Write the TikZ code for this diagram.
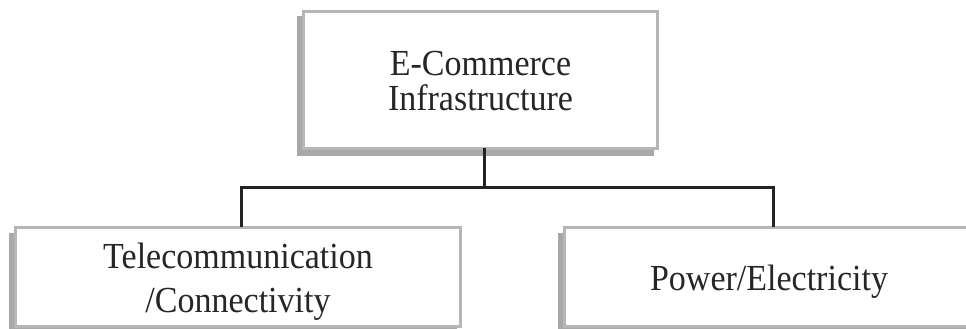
\documentclass[tikz,border=0pt]{standalone}
\usepackage{fontspec}
\setmainfont{Liberation Serif}
\usetikzlibrary{backgrounds,calc}
\definecolor{framegray}{HTML}{B4B6B8}
\definecolor{shadowgray}{HTML}{A6A8AA}
\definecolor{linedark}{HTML}{232323}
\definecolor{textdark}{HTML}{262626}
\tikzset{
  box/.style={draw=framegray, line width=3pt, fill=white, inner sep=0pt, rectangle},
  lbl/.style={text=textdark, align=center, inner sep=0pt, transform shape},
  conn/.style={draw=linedark, line width=3pt},
  shade box/.style={fill=shadowgray}
}
\begin{document}
\begin{tikzpicture}[x=1pt,y=1pt]
\path[use as bounding box, clip] (0,0) rectangle (966,329);
% boxes
\node[box, minimum width=354pt, minimum height=137pt] (top) at (480.5,249) {};
\node[box, minimum width=445pt, minimum height=99pt] (tele) at (238,52) {};
\node[box, minimum width=409pt, minimum height=99pt] (power) at (769,52) {};
% page and shadows
\begin{scope}[on background layer]
\fill[white] (0,0) rectangle (966,329);
\foreach \b/\dy in {top/-6pt, tele/-7pt, power/-7pt}{
  \fill[shade box] ([shift={(-5pt,\dy)}]\b.south west) rectangle ([shift={(-5pt,\dy)}]\b.north east);
}
\end{scope}
% texts
\begin{scope}[shift={(top.center)}, yscale=1.08]
\node[lbl, font=\fontsize{34}{33}\selectfont] (toptext) at (0,-1) {E-Commerce\\Infrastructure};
\end{scope}
\begin{scope}[shift={(tele.center)}, yscale=1.08]
\node[lbl, font=\fontsize{34}{41}\selectfont] (teletext) at (0,-4.5) {Telecommunication\\/Connectivity};
\end{scope}
\begin{scope}[shift={(power.center)}, yscale=1.08]
\node[lbl, font=\fontsize{34}{41}\selectfont] (powertext) at (0,-4.5) {Power/Electricity};
\end{scope}
% connectors
\coordinate (bus) at (0,141.5);
\draw[conn] ([xshift=4pt,yshift=2pt]top.south) -- ([xshift=4pt]top.south |- bus);
\draw[conn] ([xshift=3pt,yshift=-1pt]tele.north) |- ([xshift=4pt]power.north |- bus) -- ([xshift=4pt,yshift=-1pt]power.north);
\end{tikzpicture}
\end{document}
